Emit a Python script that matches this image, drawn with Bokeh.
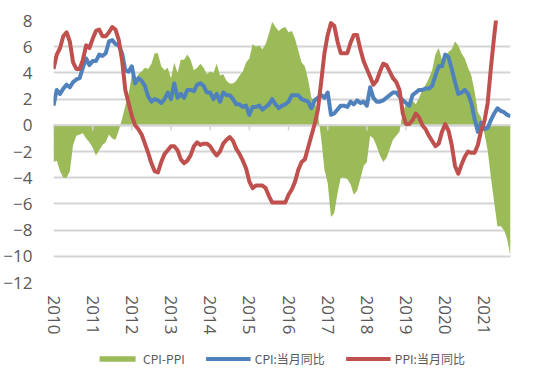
import math
from bokeh.plotting import figure
from bokeh.layouts import column
from bokeh.models import Range1d, FixedTicker, Legend, LegendItem
from bokeh.embed import file_html
from bokeh.resources import INLINE

years = ["2010", "2011", "2012", "2013", "2014", "2015",
         "2016", "2017", "2018", "2019", "2020", "2021"]

# CPI: 当月同比 (%), monthly 2010-01 .. 2021-09
cpi = [1.5, 2.7, 2.4, 2.8, 3.1, 2.9, 3.3, 3.5, 3.6, 4.4, 5.1, 4.6,
       4.9, 4.9, 5.4, 5.3, 5.5, 6.4, 6.5, 6.2, 6.1, 5.5, 4.2, 4.1,
       4.5, 3.2, 3.6, 3.4, 3.0, 2.2, 1.8, 2.0, 1.9, 1.7, 2.0, 2.5,
       2.0, 3.2, 2.1, 2.4, 2.1, 2.7, 2.7, 2.6, 3.1, 3.2, 3.0, 2.5,
       2.5, 2.0, 2.4, 1.8, 2.5, 2.3, 2.3, 2.0, 1.6, 1.6, 1.4, 1.5,
       0.8, 1.4, 1.4, 1.5, 1.2, 1.4, 1.6, 2.0, 1.6, 1.3, 1.5, 1.6,
       1.8, 2.3, 2.3, 2.3, 2.0, 1.9, 1.8, 1.3, 1.9, 2.1, 2.3, 2.1,
       2.5, 0.8, 0.9, 1.2, 1.5, 1.5, 1.4, 1.8, 1.6, 1.9, 1.7, 1.8,
       1.5, 2.9, 2.1, 1.8, 1.8, 1.9, 2.1, 2.3, 2.5, 2.5, 2.2, 1.9,
       1.7, 1.5, 2.3, 2.5, 2.7, 2.7, 2.8, 2.8, 3.0, 3.8, 4.5, 4.5,
       5.4, 5.2, 4.3, 3.3, 2.4, 2.5, 2.7, 2.4, 1.7, 0.5, -0.5, 0.2,
       -0.3, -0.2, 0.4, 0.9, 1.3, 1.1, 1.0, 0.8, 0.7]

# PPI: 当月同比 (%), monthly 2010-01 .. 2021-09
ppi = [4.3, 5.4, 5.9, 6.8, 7.1, 6.4, 4.8, 4.3, 4.3, 5.0, 6.1, 5.9,
       6.6, 7.2, 7.3, 6.8, 6.8, 7.1, 7.5, 7.3, 6.5, 5.0, 2.7, 1.7,
       0.7, 0.0, -0.3, -0.7, -1.4, -2.1, -2.9, -3.5, -3.6, -2.8, -2.2, -1.9,
       -1.6, -1.6, -1.9, -2.6, -2.9, -2.7, -2.3, -1.6, -1.3, -1.5, -1.4, -1.4,
       -1.6, -2.0, -2.3, -2.0, -1.4, -1.1, -0.9, -1.2, -1.8, -2.2, -2.7, -3.3,
       -4.3, -4.8, -4.6, -4.6, -4.6, -4.8, -5.4, -5.9, -5.9, -5.9, -5.9, -5.9,
       -5.3, -4.9, -4.3, -3.4, -2.8, -2.6, -1.7, -0.8, 0.1, 1.2, 3.3, 5.5,
       6.9, 7.8, 7.6, 6.4, 5.5, 5.5, 5.5, 6.3, 6.9, 6.9, 5.8, 4.9,
       4.3, 3.7, 3.1, 3.4, 4.1, 4.7, 4.6, 4.1, 3.6, 3.3, 2.7, 0.9,
       0.1, 0.1, 0.4, 0.9, 0.6, 0.0, -0.3, -0.8, -1.2, -1.6, -1.4, -0.5,
       0.1, -0.4, -1.5, -3.1, -3.7, -3.0, -2.4, -2.0, -2.1, -2.1, -1.5, -0.4,
       0.3, 1.7, 4.4, 6.8, 9.0, 8.8, 9.0, 9.5, 10.7]

labels = ["CPI-PPI", "CPI:当月同比", "PPI:当月同比"]

diff = [round(c - q, 1) for c, q in zip(cpi, ppi)]
x = list(range(len(cpi)))
zeros = [0] * len(x)
year_ticks = [12 * i for i in range(len(years))]
y_ticks = list(range(-12, 9, 2))

GREEN = "#9BBB59"
BLUE = "#4F81BD"
RED = "#C0504D"
TXT = "#595959"
GRID = "#D4D4D4"

p = figure(frame_width=457, frame_height=262, output_backend="svg",
           toolbar_location=None,
           x_range=Range1d(0, len(cpi) - 1), y_range=Range1d(-12, 8),
           min_border_left=49, min_border_right=28, min_border_top=20,
           min_border_bottom=62)
p.outline_line_color = None
p.background_fill_color = "white"
p.border_fill_color = "white"

# grid
p.xgrid.grid_line_color = None
p.yaxis.ticker = FixedTicker(ticks=y_ticks)
p.ygrid.ticker = FixedTicker(ticks=y_ticks)
p.ygrid.grid_line_color = GRID
p.ygrid.grid_line_width = 2
p.xaxis.ticker = FixedTicker(ticks=year_ticks)
p.xaxis.major_label_overrides = {t: y for t, y in zip(year_ticks, years)}

# axes styling
for ax in (p.xaxis, p.yaxis):
    ax.axis_line_color = None
    ax.major_tick_line_color = None
    ax.minor_tick_line_color = None
    ax.major_tick_out = 0
    ax.major_tick_in = 0
    ax.minor_tick_out = 0
    ax.major_label_text_color = TXT
    ax.major_label_text_font = "Open Sans"
    ax.major_label_text_font_size = "17px"
p.yaxis.major_label_standoff = 21
p.xaxis.major_label_standoff = 13
p.xaxis.major_label_orientation = -math.pi / 2

# data
p.varea(x=x, y1=zeros, y2=diff, fill_color=GREEN, fill_alpha=1)
# zero line with year tick marks
p.line(x=[x[0], x[-1]], y=[0, 0], line_color=GRID, line_width=2)
p.segment(x0=year_ticks, y0=[0] * len(year_ticks), x1=year_ticks,
          y1=[-0.4] * len(year_ticks), line_color=GRID, line_width=1.5)
p.line(x=x, y=cpi, line_color=BLUE, line_width=4, line_join="round")
p.line(x=x, y=ppi, line_color=RED, line_width=4, line_join="round")

# legend strip below the chart (its renderers hold the same data, out of view)
lf = figure(width=534, height=28, output_backend="svg", toolbar_location=None,
            x_axis_location=None, y_axis_location=None,
            x_range=Range1d(0, 1), y_range=Range1d(100, 101), min_border=0)
lf.outline_line_color = None
lf.xgrid.grid_line_color = None
lf.ygrid.grid_line_color = None
la = lf.varea(x=x, y1=zeros, y2=diff, fill_color=GREEN)
lb = lf.line(x=x, y=cpi, line_color=BLUE, line_width=4)
lr = lf.line(x=x, y=ppi, line_color=RED, line_width=4)
legend = Legend(items=[LegendItem(label=labels[0], renderers=[la]),
                       LegendItem(label=labels[1], renderers=[lb]),
                       LegendItem(label=labels[2], renderers=[lr])],
                orientation="horizontal", location="center",
                label_text_font="Noto Sans CJK SC", label_text_font_size="12px",
                label_text_color=TXT, glyph_width=45, glyph_height=7,
                label_height=20, label_standoff=4, spacing=21, padding=0,
                margin=0, border_line_color=None, background_fill_alpha=0)
lf.add_layout(legend, "center")

layout = column(p, lf, spacing=0)
open("out.html", "w").write(file_html(layout, INLINE))
